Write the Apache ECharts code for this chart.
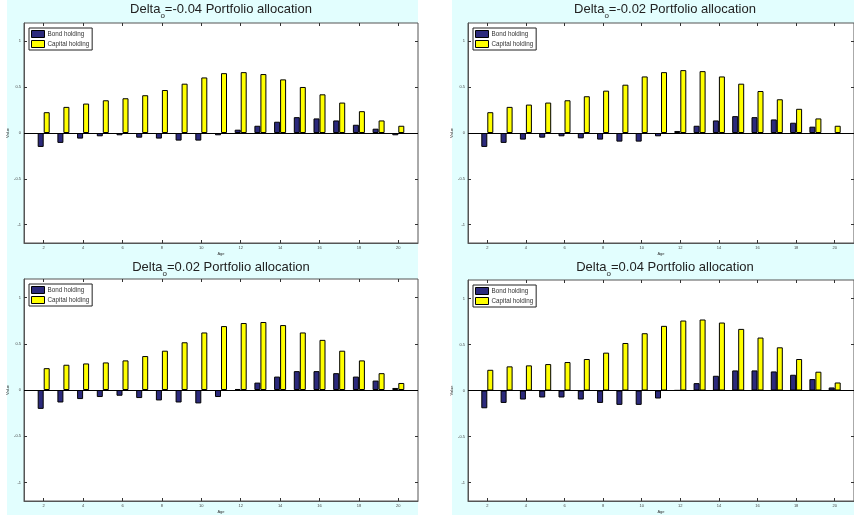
<!DOCTYPE html>
<html>
<head>
<meta charset="utf-8">
<script src="https://cdn.jsdelivr.net/npm/echarts@6/dist/echarts.min.js"></script>
<style>
  html, body { margin: 0; padding: 0; background: #ffffff; }
  #chart { width: 854px; height: 515px; }
</style>
</head>
<body>
<div id="chart"></div>
<script>
// Ages on the horizontal axis
const ages = [2, 3, 4, 5, 6, 7, 8, 9, 10, 11, 12, 13, 14, 15, 16, 17, 18, 19, 20];
const xTicks = [2, 4, 6, 8, 10, 12, 14, 16, 18, 20];
const yTicks = [-1, -0.5, 0, 0.5, 1];
const yTickLabels = ['-1', '-0.5', '0', '0.5', '1'];

// Panel headings (delta values)
const deltaLabels = ['-0.04', '-0.02', '0.02', '0.04'];

// Delta = -0.04
const bondM004 = [-0.152, -0.108, -0.061, -0.036, -0.025, -0.051, -0.061, -0.083, -0.083, -0.025,
                  0.036, 0.079, 0.123, 0.173, 0.159, 0.137, 0.090, 0.047, -0.025];
const capM004 = [0.227, 0.285, 0.321, 0.357, 0.379, 0.412, 0.469, 0.538, 0.606, 0.653,
                 0.664, 0.643, 0.585, 0.502, 0.422, 0.332, 0.238, 0.137, 0.079];

// Delta = -0.02
const bondM002 = [-0.152, -0.108, -0.072, -0.051, -0.036, -0.058, -0.072, -0.094, -0.094, -0.036,
                  0.022, 0.079, 0.137, 0.184, 0.173, 0.148, 0.112, 0.069, -0.011];
const capM002 = [0.227, 0.285, 0.310, 0.332, 0.357, 0.401, 0.462, 0.527, 0.617, 0.664,
                 0.686, 0.675, 0.617, 0.538, 0.458, 0.368, 0.264, 0.159, 0.079];

// Delta = 0.02
const bondP002 = [-0.204, -0.135, -0.098, -0.076, -0.062, -0.087, -0.113, -0.135, -0.145, -0.076,
                  0.011, 0.080, 0.145, 0.204, 0.204, 0.182, 0.145, 0.102, 0.022];
const capP002 = [0.236, 0.273, 0.287, 0.298, 0.320, 0.367, 0.425, 0.516, 0.622, 0.691,
                 0.724, 0.735, 0.702, 0.622, 0.542, 0.425, 0.320, 0.182, 0.076];

// Delta = 0.04
const bondP004 = [-0.193, -0.135, -0.098, -0.076, -0.076, -0.098, -0.135, -0.156, -0.156, -0.087,
                  0.002, 0.080, 0.160, 0.218, 0.218, 0.207, 0.171, 0.124, 0.033];
const capP004 = [0.225, 0.262, 0.273, 0.287, 0.309, 0.342, 0.411, 0.516, 0.622, 0.702,
                 0.760, 0.771, 0.738, 0.669, 0.575, 0.469, 0.342, 0.204, 0.087];

const bondSets = [bondM004, bondM002, bondP002, bondP004];
const capSets = [capM004, capM002, capP002, capP004];

// Panel placement (pixels)
const grids = [
  { left: 24, top: 23, width: 394, height: 220 },
  { left: 468, top: 23, width: 394, height: 220 },
  { left: 24, top: 279, width: 394, height: 222 },
  { left: 468, top: 280, width: 394, height: 221 }
];
const titleTops = [3, 3, 261, 261];

const BOND_COLOR = '#2c2a7c';
const CAP_COLOR = '#ffff00';
const FRAME = '#555555';
const FONT = '"Liberation Sans", Arial, Helvetica, sans-serif';

const option = {
  animation: false,
  backgroundColor: '#ffffff',
  graphic: [
    { type: 'rect', silent: true, z: -10, shape: { x: 7, y: 0, width: 411, height: 515 }, style: { fill: '#e2fefe' } },
    { type: 'rect', silent: true, z: -10, shape: { x: 452, y: 0, width: 402, height: 515 }, style: { fill: '#e2fefe' } }
  ],
  title: [],
  legend: [],
  grid: [],
  xAxis: [],
  yAxis: [],
  series: []
};

grids.forEach((g, i) => {
  option.grid.push({
    left: g.left, top: g.top, width: g.width, height: g.height,
    show: true, backgroundColor: '#ffffff', borderColor: FRAME, borderWidth: 1,
    containLabel: false
  });

  option.title.push({
    left: g.left + g.width / 2,
    top: titleTops[i],
    textAlign: 'center',
    padding: 0,
    text: '{a|Delta}{s|o}{a|=' + deltaLabels[i] + ' Portfolio allocation}',
    textStyle: {
      fontWeight: 'normal',
      rich: {
        a: { fontFamily: FONT, fontSize: 13, fontWeight: 'normal', color: '#222222', lineHeight: 14, verticalAlign: 'top' },
        s: { fontFamily: FONT, fontSize: 8, fontWeight: 'normal', color: '#222222', lineHeight: 8, padding: [9, 0, 0, 0], verticalAlign: 'top' }
      }
    }
  });

  // Bottom axis with labels
  option.xAxis.push({
    type: 'value', gridIndex: i, min: 1, max: 21,
    name: 'Age', nameLocation: 'middle', nameGap: 9,
    nameTextStyle: { fontFamily: FONT, fontSize: 4, color: '#333333' },
    axisLine: { show: true, onZero: false, lineStyle: { color: FRAME, width: 1 } },
    axisTick: { show: true, inside: true, length: 3, customValues: xTicks, lineStyle: { color: '#333333' } },
    axisLabel: { show: true, customValues: xTicks, fontFamily: FONT, fontSize: 4, color: '#444444', margin: 3 },
    splitLine: { show: false }
  });
  // Top axis: ticks only
  option.xAxis.push({
    type: 'value', gridIndex: i, min: 1, max: 21, position: 'top',
    axisLine: { show: false, onZero: false },
    axisTick: { show: true, inside: true, length: 3, customValues: xTicks, lineStyle: { color: '#333333' } },
    axisLabel: { show: false },
    splitLine: { show: false }
  });
  // Left axis with labels
  option.yAxis.push({
    type: 'value', gridIndex: i, min: -1.2, max: 1.2,
    name: 'Value', nameLocation: 'middle', nameGap: 11, nameRotate: 90,
    nameTextStyle: { fontFamily: FONT, fontSize: 4, color: '#333333' },
    axisLine: { show: true, onZero: false, lineStyle: { color: FRAME, width: 1 } },
    axisTick: { show: true, inside: true, length: 3, customValues: yTicks, lineStyle: { color: '#333333' } },
    axisLabel: {
      show: true, customValues: yTicks, fontFamily: FONT, fontSize: 4, color: '#444444', margin: 3,
      formatter: v => yTickLabels[yTicks.indexOf(v)] ?? String(v)
    },
    splitLine: { show: false }
  });
  // Right axis: ticks only
  option.yAxis.push({
    type: 'value', gridIndex: i, min: -1.2, max: 1.2, position: 'right',
    axisLine: { show: false, onZero: false },
    axisTick: { show: true, inside: true, length: 3, customValues: yTicks, lineStyle: { color: '#333333' } },
    axisLabel: { show: false },
    splitLine: { show: false }
  });

  option.legend.push({
    show: true,
    left: g.left + 5, top: g.top + 5,
    orient: 'vertical',
    data: ['Bond holding', 'Capital holding'],
    icon: 'rect',
    itemWidth: 13, itemHeight: 7, itemGap: 2,
    padding: [2, 3, 2, 2],
    borderColor: '#222222', borderWidth: 1, backgroundColor: '#ffffff',
    itemStyle: { borderColor: '#000000', borderWidth: 1 },
    textStyle: { fontFamily: FONT, fontSize: 6.3, color: '#333333', padding: [0, 0, 0, -2] },
    selectedMode: false
  });

  const xIdx = i * 2;
  const yIdx = i * 2;
  option.series.push({
    name: 'Bond holding', type: 'bar',
    xAxisIndex: xIdx, yAxisIndex: yIdx,
    barWidth: 6, barGap: '0%',
    itemStyle: { color: BOND_COLOR, borderColor: '#000000', borderWidth: 1 },
    data: ages.map((a, k) => [a, bondSets[i][k]]),
    markLine: {
      silent: true, symbol: 'none', label: { show: false },
      lineStyle: { color: '#000000', width: 1, type: 'solid' },
      data: [{ yAxis: 0 }]
    }
  });
  option.series.push({
    name: 'Capital holding', type: 'bar',
    xAxisIndex: xIdx, yAxisIndex: yIdx,
    barWidth: 6, barGap: '0%',
    itemStyle: { color: CAP_COLOR, borderColor: '#000000', borderWidth: 1 },
    data: ages.map((a, k) => [a, capSets[i][k]])
  });
});

const chart = echarts.init(document.getElementById('chart'), null, { renderer: 'canvas' });
chart.setOption(option);
</script>
</body>
</html>
